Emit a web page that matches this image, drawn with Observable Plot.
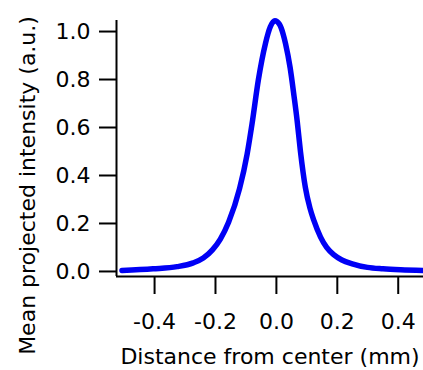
<!DOCTYPE html>
<html>
<head>
<meta charset="utf-8">
<script src="https://cdn.jsdelivr.net/npm/d3@7"></script>
<script src="https://cdn.jsdelivr.net/npm/@observablehq/plot@0.6"></script>
<style>
  html, body { margin: 0; padding: 0; background: white; }
  svg { display: block; }
</style>
</head>
<body>
<div id="chart"></div>
<script>
// Distance from center (mm)
const distance = [-0.507, -0.405, -0.326, -0.273, -0.240, -0.210, -0.184, -0.157, -0.121, -0.096, -0.080, -0.059, -0.036, -0.020, -0.005, 0.010, 0.022, 0.030, 0.045, 0.058, 0.068, 0.079, 0.095, 0.110, 0.123, 0.145, 0.165, 0.188, 0.215, 0.249, 0.299, 0.350, 0.408, 0.484];
// Mean projected intensity (a.u.)
const intensity = [0.004, 0.011, 0.020, 0.036, 0.056, 0.090, 0.135, 0.205, 0.345, 0.49, 0.615, 0.80, 0.95, 1.02, 1.045, 1.03, 0.99, 0.95, 0.85, 0.73, 0.63, 0.50, 0.351, 0.265, 0.2125, 0.143, 0.10, 0.070, 0.048, 0.032, 0.017, 0.011, 0.007, 0.004];

const xTicks = [-0.4, -0.2, 0.0, 0.2, 0.4];
const yTicks = [0.0, 0.2, 0.4, 0.6, 0.8, 1.0];
const xLabel = "Distance from center (mm)";
const yLabel = "Mean projected intensity (a.u.)";

const data = distance.map((d, i) => ({x: d, y: intensity[i]}));
const xDomain = [-0.525, 0.483];
const yDomain = [-0.021, 1.046];
const fmt = d => d.toFixed(1);
const font = "DejaVu Sans";

const chart = Plot.plot({
  width: 423,
  height: 370,
  marginLeft: 116,
  marginRight: 0,
  marginTop: 20,
  marginBottom: 94,
  style: {fontFamily: font, fontSize: "22px", background: "white", color: "black", overflow: "visible"},
  x: {domain: xDomain},
  y: {domain: yDomain},
  marks: [
    Plot.axisX({ticks: xTicks, tickFormat: fmt, tickSize: 18, tickPadding: 19, strokeWidth: 2, fontSize: 22, fontFamily: font,
      label: xLabel, labelAnchor: "center", labelArrow: "none", labelOffset: 87}),
    Plot.axisY({ticks: yTicks, tickFormat: fmt, tickSize: 17, tickPadding: 9, strokeWidth: 2, fontSize: 22, fontFamily: font, label: null}),
    Plot.text([yLabel], {text: d => d, frameAnchor: "left", rotate: -90, lineAnchor: "top", textAnchor: "middle",
      dx: -97, dy: 37, fontSize: 22, fontFamily: font, fill: "black"}),
    Plot.ruleX([xDomain[0]], {stroke: "black", strokeWidth: 2}),
    Plot.ruleY([yDomain[0]], {stroke: "black", strokeWidth: 2}),
    Plot.line(data, {x: "x", y: "y", stroke: "#0000f5", strokeWidth: 5.5, curve: "monotone-x", strokeLinecap: "round", strokeLinejoin: "round"})
  ]
});
document.getElementById("chart").appendChild(chart);
</script>
</body>
</html>
